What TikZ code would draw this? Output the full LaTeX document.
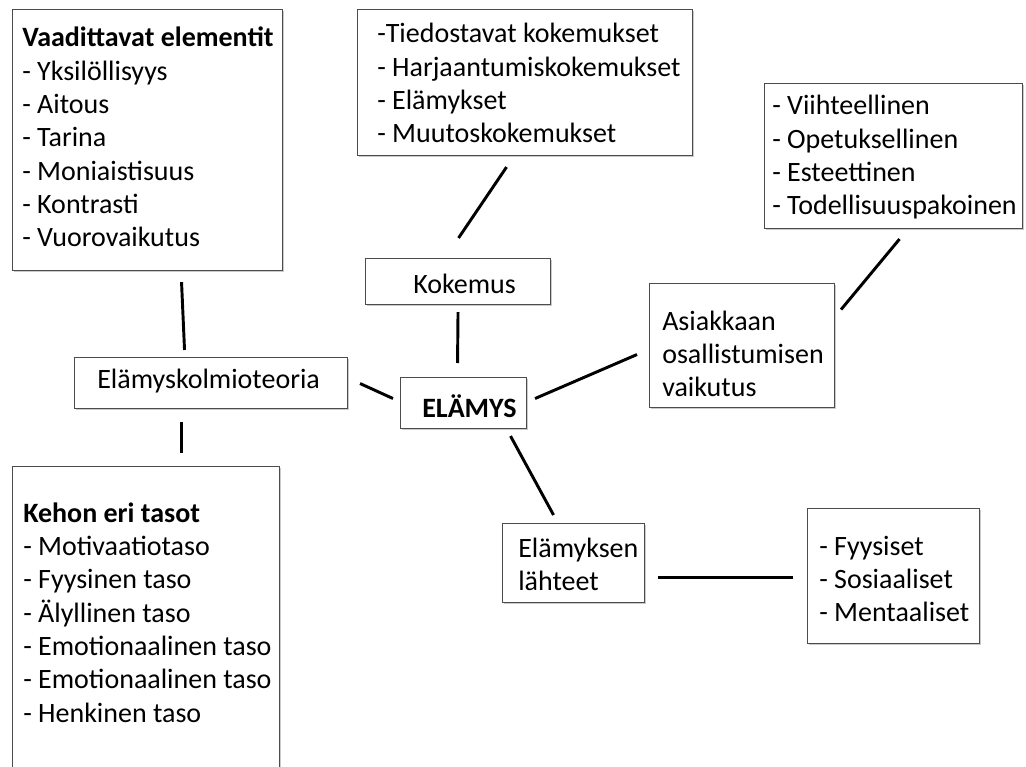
\documentclass[tikz,border=0pt]{standalone}
\usepackage{fontspec}
\setmainfont{Carlito}
\usetikzlibrary{shadows}
\newcommand\bx[5]{\node[box,anchor=north west,minimum width={(#4-#2)*0.75pt},minimum height={(#5-#3)*0.75pt}] (#1) at (#2,#3) {};}
\tikzset{
  box/.style={draw=black!70, line width=0.8pt, fill=white, inner sep=0pt,
    drop shadow={shadow xshift=1.2pt, shadow yshift=-1.2pt, fill=black!35, opacity=0.6}},
  txt/.style={inner sep=0pt, anchor=base west, font=\fontsize{21pt}{25pt}\selectfont},
  conn/.style={line width=2.2pt, black}
}
\begin{document}
\begin{tikzpicture}[x=0.75pt,y=-0.75pt]
\useasboundingbox (0,0) rectangle (1026,767);
\clip (0,0) rectangle (1026,767);
% boxes
\bx{t1}{12}{9}{282}{270}
\bx{t2}{357}{9}{692}{155}
\bx{t3}{764}{83}{1022}{228}
\bx{kok}{365}{258}{550}{304}
\bx{et}{74}{357}{347}{408}
\bx{el}{400}{377}{526}{428}
\bx{as}{649}{283}{834}{407}
\bx{keh}{12}{466}{279}{800}
\bx{ls}{502}{523}{644}{602}
\bx{fy}{807}{508}{979}{643}
% texts
\node[txt] (t1x) at (22,47) {\begin{tabular}[t]{@{}l@{}}\textbf{Vaadittavat elementit}\\- Yksilöllisyys\\- Aitous\\- Tarina\\- Moniaistisuus\\- Kontrasti\\- Vuorovaikutus\end{tabular}};
\node[txt] (t2x) at (377,43) {\begin{tabular}[t]{@{}l@{}}-Tiedostavat kokemukset\\- Harjaantumiskokemukset\\- Elämykset\\- Muutoskokemukset\end{tabular}};
\node[txt] (t3x) at (772,115) {\begin{tabular}[t]{@{}l@{}}- Viihteellinen\\- Opetuksellinen\\- Esteettinen\\- Todellisuuspakoinen\end{tabular}};
\node[txt] (kokx) at (413,293) {Kokemus};
\node[txt] (etx) at (97,388) {Elämyskolmioteoria};
\node[txt] (elx) at (422,417) {\textbf{ELÄMYS}};
\node[txt] (asx) at (662,330) {\begin{tabular}[t]{@{}l@{}}Asiakkaan\\osallistumisen\\vaikutus\end{tabular}};
\node[txt] (kehx) at (23,522) {\begin{tabular}[t]{@{}l@{}}\textbf{Kehon eri tasot}\\- Motivaatiotaso\\- Fyysinen taso\\- Älyllinen taso\\- Emotionaalinen taso\\- Emotionaalinen taso\\- Henkinen taso\end{tabular}};
\node[txt] (lsx) at (518,557) {\begin{tabular}[t]{@{}l@{}}Elämyksen\\lähteet\end{tabular}};
\node[txt] (fyx) at (819,555) {\begin{tabular}[t]{@{}l@{}}- Fyysiset\\- Sosiaaliset\\- Mentaaliset\end{tabular}};
% connectors
\draw[conn] ([shift={(-18.5,11)}]t2.south) -- ([shift={(0.5,-20)}]kok.north);
\draw[conn] ([shift={(0,7)}]kok.south) -- ([shift={(-6,-14)}]el.north);
\draw[conn] ([shift={(34,11)}]t1.south) -- ([shift={(-26.5,-7)}]et.north);
\draw[conn] ([shift={(-29.5,13)}]et.south) -- ([shift={(35.5,-13)}]keh.north);
\draw[conn] ([shift={(12,0.5)}]et.east) -- ([shift={(-7,-4.5)}]el.west);
\draw[conn] ([shift={(8,-4.5)}]el.east) -- ([shift={(-12,9)}]as.west);
\draw[conn] ([shift={(6,-36)}]as.east) -- ([shift={(6,10)}]t3.south);
\draw[conn] ([shift={(47,7)}]el.south) -- ([shift={(-20,-8)}]ls.north);
\draw[conn] ([shift={(13,14.5)}]ls.east) -- ([shift={(-14,1.5)}]fy.west);
\end{tikzpicture}
\end{document}
